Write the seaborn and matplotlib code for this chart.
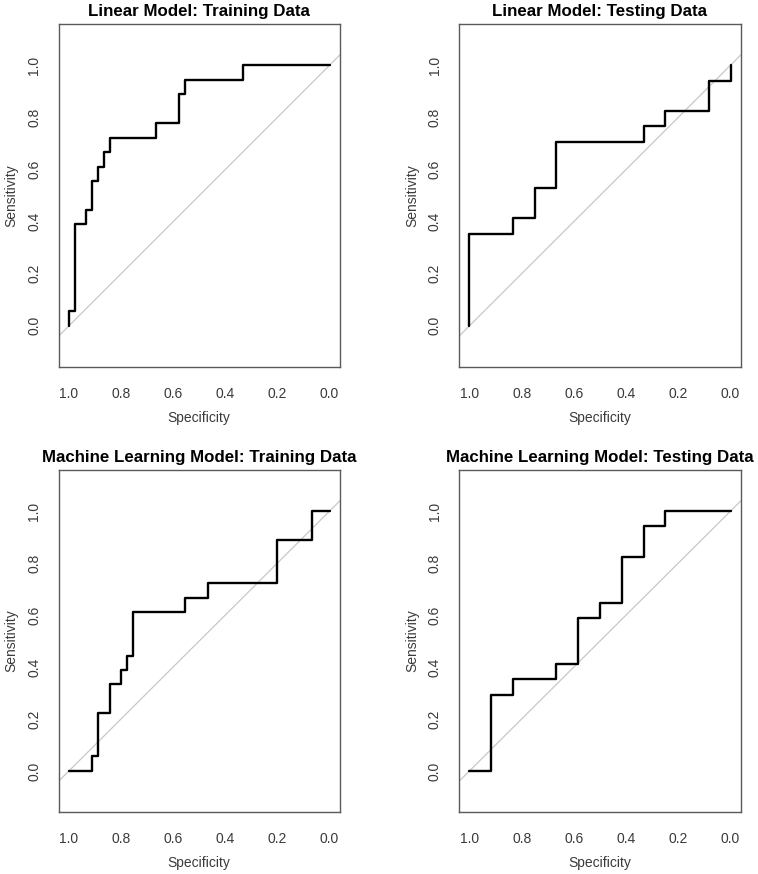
import matplotlib
matplotlib.use("Agg")
import matplotlib.pyplot as plt
import pandas as pd
import seaborn as sns

# ROC curve vertices (specificity, sensitivity)
lin_train_spec = [1.0, 1.0, 0.978, 0.978, 0.933, 0.933, 0.911, 0.911, 0.889, 0.889,
                  0.867, 0.867, 0.844, 0.844, 0.667, 0.667, 0.578, 0.578, 0.556, 0.556,
                  0.333, 0.333, 0.0]
lin_train_sens = [0.0, 0.056, 0.056, 0.389, 0.389, 0.444, 0.444, 0.556, 0.556, 0.611,
                  0.611, 0.667, 0.667, 0.722, 0.722, 0.778, 0.778, 0.889, 0.889, 0.944,
                  0.944, 1.0, 1.0]

lin_test_spec = [1.0, 1.0, 0.833, 0.833, 0.75, 0.75, 0.667, 0.667, 0.333, 0.333,
                 0.25, 0.25, 0.083, 0.083, 0.0, 0.0]
lin_test_sens = [0.0, 0.353, 0.353, 0.412, 0.412, 0.529, 0.529, 0.706, 0.706, 0.765,
                 0.765, 0.824, 0.824, 0.941, 0.941, 1.0]

ml_train_spec = [1.0, 0.911, 0.911, 0.889, 0.889, 0.844, 0.844, 0.8, 0.8, 0.778,
                 0.778, 0.756, 0.756, 0.556, 0.556, 0.467, 0.467, 0.2, 0.2, 0.067,
                 0.067, 0.0]
ml_train_sens = [0.0, 0.0, 0.056, 0.056, 0.222, 0.222, 0.333, 0.333, 0.389, 0.389,
                 0.444, 0.444, 0.611, 0.611, 0.667, 0.667, 0.722, 0.722, 0.889, 0.889,
                 1.0, 1.0]

ml_test_spec = [1.0, 0.917, 0.917, 0.833, 0.833, 0.667, 0.667, 0.583, 0.583, 0.5,
                0.5, 0.417, 0.417, 0.333, 0.333, 0.25, 0.25, 0.0]
ml_test_sens = [0.0, 0.0, 0.294, 0.294, 0.353, 0.353, 0.412, 0.412, 0.588, 0.588,
                0.647, 0.647, 0.824, 0.824, 0.941, 0.941, 1.0, 1.0]

titles = [
    "Linear Model: Training Data",
    "Linear Model: Testing Data",
    "Machine Learning Model: Training Data",
    "Machine Learning Model: Testing Data",
]
tick_values = [1.0, 0.8, 0.6, 0.4, 0.2, 0.0]
tick_labels = ["1.0", "0.8", "0.6", "0.4", "0.2", "0.0"]

sns.set_style("white")
plt.rcParams["font.family"] = ["Liberation Sans", "DejaVu Sans"]

W, H = 758, 874
fig = plt.figure(figsize=(W / 100, H / 100), dpi=100)

# axes boxes in pixels: left, top, right, bottom
boxes = [
    (58.5, 24, 340, 367),
    (459, 24, 741, 367),
    (58.5, 470, 340, 812),
    (459, 470, 741, 812),
]
curves = [
    (lin_train_spec, lin_train_sens),
    (lin_test_spec, lin_test_sens),
    (ml_train_spec, ml_train_sens),
    (ml_test_spec, ml_test_sens),
]

frame_col = "#5a5a5a"
text_col = "#3a3a3a"

for (l, t, r, b), (spec, sens), title in zip(boxes, curves, titles):
    ax = fig.add_axes([l / W, 1 - b / H, (r - l) / W, (b - t) / H])
    df = pd.DataFrame({"Specificity": spec, "Sensitivity": sens})

    ax.axline((1.0, 0.0), (0.0, 1.0), color="#c8c8c8", lw=0.9, zorder=1)
    sns.lineplot(data=df, x="Specificity", y="Sensitivity", sort=False,
                 estimator=None, color="black", lw=1.7, ax=ax, zorder=3)

    ax.set_xlim(1.04, -0.04)
    ax.set_ylim(-0.158, 1.158)

    ax.set_xticks(tick_values)
    ax.set_xticklabels(tick_labels)
    ax.set_yticks(tick_values)
    ax.set_yticklabels(tick_labels, rotation=90, va="center")
    ax.tick_params(axis="both", direction="out", length=5.5, width=0.9,
                   color=frame_col, labelcolor=text_col, labelsize=10)
    ax.tick_params(axis="x", pad=9)
    ax.tick_params(axis="y", pad=7)

    for s in ax.spines.values():
        s.set_visible(True)
        s.set_color(frame_col)
        s.set_linewidth(1.0)

    ax.set_xlabel("Specificity", fontsize=10, color=text_col, labelpad=7)
    ax.set_ylabel("Sensitivity", fontsize=10, color=text_col, labelpad=6)
    ax.set_title(title, fontsize=12.2, fontweight="bold", color="black", pad=6)
    ax.grid(False)

fig.savefig("out.png", dpi=100)
